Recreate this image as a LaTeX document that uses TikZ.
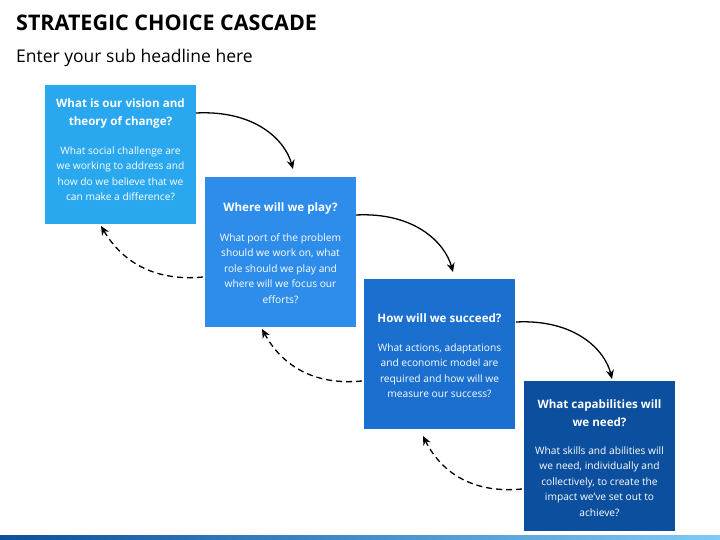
\documentclass[tikz,border=0pt]{standalone}
\usepackage{fontspec}
\setmainfont{Open Sans}
\usetikzlibrary{arrows.meta}
\definecolor{c1}{HTML}{29A8F0}
\definecolor{c2}{HTML}{2E8DEA}
\definecolor{c3}{HTML}{1B6FCF}
\definecolor{c4}{HTML}{0C4F9E}
\begin{document}
\begin{tikzpicture}[x=1pt,y=-1pt,
 box/.style={fill=#1,draw=none,minimum width=151pt,minimum height=150pt,anchor=north west,inner sep=0pt},
 hd/.style={text=white,font=\bfseries\fontsize{11.6}{18}\selectfont,align=center,anchor=north},
 bd/.style={text=white,font=\fontsize{10.2}{15.5}\selectfont,align=center,anchor=north},
 sol/.style={line width=1.3pt,-{Stealth[length=9pt,width=8pt]}},
 dsh/.style={line width=1.3pt,dash pattern=on 6pt off 4pt,-{Stealth[length=9pt,width=8pt]}}]
\useasboundingbox (0,0) rectangle (720,540);
\node[anchor=north west,inner sep=0pt,font=\bfseries\fontsize{21.5}{26}\selectfont] (t) at (16,15) {STRATEGIC CHOICE CASCADE};
\node[anchor=north west,inner sep=0pt,font=\fontsize{17.5}{22}\selectfont] (st) at (16,49) {Enter your sub headline here};
\node[box=c1,minimum height=139pt] (b1) at (45,85) {};
\node[box=c2] (b2) at (205,177) {};
\node[box=c3] (b3) at (364,279) {};
\node[box=c4] (b4) at (524,381) {};
\node[hd] at (120.5,95) {What is our vision and\\theory of change?};
\node[bd] at (120.5,143) {What social challenge are\\we working to address and\\how do we believe that we\\can make a difference?};
\node[hd] at (280.5,199) {Where will we play?};
\node[bd] at (280.5,230) {What port of the problem\\should we work on, what\\role should we play and\\where will we focus our\\efforts?};
\node[hd] at (439.5,310) {How will we succeed?};
\node[bd] at (439.5,340) {What actions, adaptations\\and economic model are\\required and how will we\\measure our success?};
\node[hd] at (599.5,396) {What capabilities will\\we need?};
\node[bd] at (599.5,443) {What skills and abilities will\\we need, individually and\\collectively, to create the\\impact we've set out to\\achieve?};
\coordinate (s1) at (196,113); \coordinate (e1) at (293,169);
\coordinate (s2) at (356,215); \coordinate (e2) at (453,272);
\coordinate (s3) at (516,322); \coordinate (e3) at (612,379);
\draw[sol] (s1) .. controls (255,110) and (285,140) .. (e1);
\draw[sol] (s2) .. controls (415,212) and (445,243) .. (e2);
\draw[sol] (s3) .. controls (575,319) and (605,350) .. (e3);
\coordinate (d1) at (203,277); \coordinate (f1) at (101,226);
\coordinate (d2) at (362,381); \coordinate (f2) at (262,329);
\coordinate (d3) at (522,489); \coordinate (f3) at (423,436);
\draw[dsh] (d1) .. controls (150,282) and (120,258) .. (f1);
\draw[dsh] (d2) .. controls (310,386) and (280,362) .. (f2);
\draw[dsh] (d3) .. controls (470,494) and (440,470) .. (f3);
\shade[left color=c4,right color=c1!60] (0,535) rectangle (720,540);
\end{tikzpicture}
\end{document}
